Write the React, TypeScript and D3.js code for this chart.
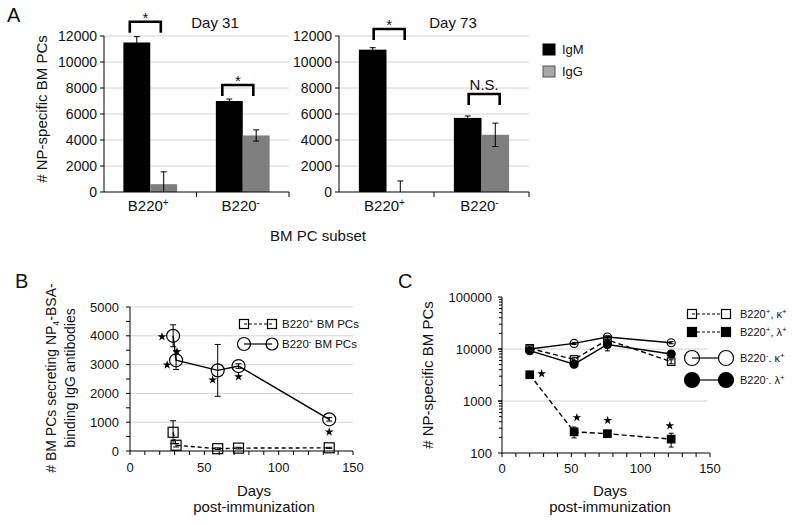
import React from "react";
import * as d3 from "d3";

const FONT = "'Liberation Sans', Arial, Helvetica, sans-serif";
const GRID = "#d4d4d4";
const INK = "#111";

// ---------- Panel A data ----------
const subsetsA = ["B220+", "B220-"];
const isotypesA = ["IgM", "IgG"];
const yTicksA = [0, 2000, 4000, 6000, 8000, 10000, 12000];
const day31IgM = [11500, 7000];
const day31IgMErr = [450, 150];
const day31IgG = [600, 4350];
const day31IgGErr = [950, 430];
const day31Sig = ["*", "*"];
const day31BracketTop = [13100, 8230];
const day73IgM = [10950, 5700];
const day73IgMErr = [150, 150];
const day73IgG = [0, 4400];
const day73IgGErr = [850, 900];
const day73Sig = ["*", "N.S."];
const day73BracketTop = [12540, 7540];

// ---------- Panel B data ----------
const daysB = [29, 31, 59, 73, 134];
const bNegMean = [4000, 3150, 2800, 2950, 1100];
const bNegErr = [380, 320, 900, 80, 60];
const bPosMean = [650, 200, 80, 100, 110];
const bPosErr = [400, 60, 30, 30, 20];
const starsBDays = [21.5, 25, 31.6, 55.6, 73, 134];
const starsBVals = [3970, 2990, 3450, 2470, 2580, 660];
const xTicksB = [0, 50, 100, 150];
const yTicksB = [0, 1000, 2000, 3000, 4000, 5000];

// ---------- Panel C data ----------
const daysC = [20, 52, 76, 122];
const cPosKappa = [10300, 6300, 15000, 5700];
const cPosKappaErr = [300, 500, 1500, 500];
const cPosLambda = [3200, 255, 235, 185];
const cPosLambdaErr = [150, 60, 20, 55];
const cNegKappa = [10000, 12800, 17000, 13200];
const cNegKappaErr = [400, 600, 800, 600];
const cNegLambda = [9300, 5100, 12200, 8000];
const cNegLambdaErr = [500, 400, 3000, 700];
const starsCDays = [28.6, 54, 76.2, 121];
const starsCVals = [3350, 480, 424, 335];
const xTicksC = [0, 50, 100, 150];
const yTicksC = [100, 1000, 10000, 100000];

function Sup({ s, size }: { s: string; size: number }) {
  return (
    <tspan baselineShift="super" fontSize={size}>
      {s}
    </tspan>
  );
}

function subsetLabel(label: string, size: number) {
  const base = label.slice(0, -1);
  const sign = label.slice(-1);
  return (
    <>
      {base}
      <Sup s={sign} size={size} />
    </>
  );
}

// ---------- Panel A ----------
function BarPanel(props: {
  x0: number;
  x1: number;
  title: string;
  igm: number[];
  igmErr: number[];
  igg: number[];
  iggErr: number[];
  sig: string[];
  bracketTop: number[];
  bracketShift: number;
}) {
  const { x0, x1, title, igm, igmErr, igg, iggErr, sig, bracketTop, bracketShift } = props;
  const y = d3.scaleLinear().domain([0, 12000]).range([192, 36]);
  const xb = d3.scaleBand<string>().domain(subsetsA).range([x0, x1]);
  const xi = d3
    .scaleBand<string>()
    .domain(isotypesA)
    .range([0, xb.bandwidth()])
    .paddingOuter(0.72);
  const series = [
    { key: "IgM", vals: igm, errs: igmErr, fill: "#000" },
    { key: "IgG", vals: igg, errs: iggErr, fill: "#7f7f7f" },
  ];
  return (
    <g>
      {yTicksA.slice(1).map((t) => (
        <line key={t} x1={x0} x2={x1} y1={y(t)} y2={y(t)} stroke={GRID} />
      ))}
      {series.map((s) =>
        subsetsA.map((c, i) => {
          const bx = (xb(c) as number) + (xi(s.key) as number);
          const w = xi.bandwidth();
          const cx = bx + w / 2;
          const lo = y(Math.max(0, s.vals[i] - s.errs[i]));
          const hi = y(s.vals[i] + s.errs[i]);
          return (
            <g key={s.key + c}>
              <rect x={bx} y={y(s.vals[i])} width={w} height={y(0) - y(s.vals[i])} fill={s.fill} />
              <line x1={cx} x2={cx} y1={lo} y2={hi} stroke="#000" strokeWidth={1} />
              <line x1={cx - 3} x2={cx + 3} y1={hi} y2={hi} stroke="#000" />
              {s.vals[i] - s.errs[i] > 0 && (
                <line x1={cx - 3} x2={cx + 3} y1={lo} y2={lo} stroke="#000" />
              )}
            </g>
          );
        })
      )}
      {subsetsA.map((c, i) => {
        const l = (xb(c) as number) + (xi("IgM") as number) + xi.bandwidth() / 2 + bracketShift;
        const r = l + 31;
        const top = y(bracketTop[i]);
        const isStar = sig[i] === "*";
        return (
          <g key={"br" + c}>
            <path
              d={`M${l},${top + 11}V${top}H${r}V${top + 11}`}
              fill="none"
              stroke="#000"
              strokeWidth={2.6}
            />
            <text
              x={(l + r) / 2}
              y={isStar ? top + 1 : top - 4}
              textAnchor="middle"
              fontSize={15}
              fill={INK}
            >
              {sig[i]}
            </text>
          </g>
        );
      })}
      {/* axes */}
      <line x1={x0} x2={x0} y1={y(12000)} y2={y(0)} stroke="#000" />
      <line x1={x0} x2={x1} y1={y(0)} y2={y(0)} stroke="#000" />
      {yTicksA.map((t) => (
        <g key={"yt" + t}>
          <line x1={x0 - 4} x2={x0} y1={y(t)} y2={y(t)} stroke="#000" />
          <text x={x0 - 7} y={y(t)} dy="0.35em" textAnchor="end" fontSize={14} fill={INK}>
            {t}
          </text>
        </g>
      ))}
      {[...subsetsA.map((c) => xb(c) as number), x1].slice(1).map((xv, i) => (
        <line key={"xt" + i} x1={xv} x2={xv} y1={y(0)} y2={y(0) + 5} stroke="#000" />
      ))}
      {subsetsA.map((c) => (
        <text
          key={"xl" + c}
          x={(xb(c) as number) + xb.bandwidth() / 2 - 2}
          y={211}
          textAnchor="middle"
          fontSize={15}
          fill={INK}
        >
          {subsetLabel(c, 10)}
        </text>
      ))}
      <text x={x0 + 0.6 * (x1 - x0)} y={28} textAnchor="middle" fontSize={15} fill={INK}>
        {title}
      </text>
    </g>
  );
}

function PanelA() {
  return (
    <g>
      <text x={7} y={22} fontSize={20} fill={INK}>
        A
      </text>
      <text
        transform="translate(47,109) rotate(-90)"
        textAnchor="middle"
        fontSize={15}
        fill={INK}
      >
        # NP-specific BM PCs
      </text>
      <BarPanel
        x0={104}
        x1={289}
        title="Day 31"
        igm={day31IgM}
        igmErr={day31IgMErr}
        igg={day31IgG}
        iggErr={day31IgGErr}
        sig={day31Sig}
        bracketTop={day31BracketTop}
        bracketShift={-7}
      />
      <BarPanel
        x0={339}
        x1={529}
        title="Day 73"
        igm={day73IgM}
        igmErr={day73IgMErr}
        igg={day73IgG}
        iggErr={day73IgGErr}
        sig={day73Sig}
        bracketTop={day73BracketTop}
        bracketShift={1}
      />
      <text x={318} y={241} textAnchor="middle" fontSize={15} fill={INK}>
        BM PC subset
      </text>
      {isotypesA.map((k, i) => (
        <g key={k} transform={`translate(543,${44 + i * 22})`}>
          <rect
            width={12}
            height={11}
            fill={i === 0 ? "#000" : "#a8a8a8"}
            stroke={i === 0 ? "#000" : "#555"}
          />
          <text x={19} y={5.5} dy="0.35em" fontSize={13} fill={INK}>
            {k}
          </text>
        </g>
      ))}
    </g>
  );
}

// ---------- shared helpers ----------
function ErrBar({ x, y1, y2, cap }: { x: number; y1: number; y2: number; cap: number }) {
  return (
    <g stroke="#000" strokeWidth={1}>
      <line x1={x} x2={x} y1={y1} y2={y2} />
      <line x1={x - cap} x2={x + cap} y1={y1} y2={y1} />
      <line x1={x - cap} x2={x + cap} y1={y2} y2={y2} />
    </g>
  );
}

function Marker({
  shape,
  filled,
  x,
  y,
  size,
}: {
  shape: "square" | "circle";
  filled: boolean;
  x: number;
  y: number;
  size: number;
}) {
  const fill = filled ? "#000" : "none";
  if (shape === "square")
    return (
      <rect x={x - size / 2} y={y - size / 2} width={size} height={size} fill={fill} stroke="#000" strokeWidth={1.2} />
    );
  return <circle cx={x} cy={y} r={size / 2} fill={fill} stroke="#000" strokeWidth={1.2} />;
}

const starPath = d3.symbol().type(d3.symbolStar).size(24)() as string;

// ---------- Panel B ----------
function PanelB() {
  const x = d3.scaleLinear().domain([0, 150]).range([130, 353]);
  const y = d3.scaleLinear().domain([0, 5000]).range([451, 307]);
  const line = d3
    .line<[number, number]>()
    .x((d) => x(d[0]))
    .y((d) => y(d[1]));
  const series = [
    { mean: bPosMean, err: bPosErr, shape: "square" as const, dash: "4,3", size: 10 },
    { mean: bNegMean, err: bNegErr, shape: "circle" as const, dash: undefined, size: 13 },
  ];
  const minorX = d3.range(0, 151, 10);
  const minorY = d3.range(0, 5001, 500);
  return (
    <g>
      <text x={15} y={288} fontSize={20} fill={INK}>
        B
      </text>
      {yTicksB.slice(1).map((t) => (
        <line key={t} x1={x(0)} x2={x(150)} y1={y(t)} y2={y(t)} stroke={GRID} />
      ))}
      <g transform="translate(56,378) rotate(-90)" fontSize={14} fill={INK} textAnchor="middle">
        <text>
          # BM PCs secreting NP
          <tspan baselineShift="-3" fontSize={9}>
            4
          </tspan>
          -BSA-
        </text>
        <text y={19}>binding IgG antibodies</text>
      </g>
      {series.map((s, si) => (
        <g key={si}>
          <path
            d={line(daysB.map((d, i) => [d, s.mean[i]]) as [number, number][]) || ""}
            fill="none"
            stroke="#000"
            strokeWidth={1.4}
            strokeDasharray={s.dash}
          />
          {daysB.map((d, i) => (
            <ErrBar key={"e" + i} x={x(d)} y1={y(s.mean[i] + s.err[i])} y2={y(Math.max(0, s.mean[i] - s.err[i]))} cap={3} />
          ))}
          {daysB.map((d, i) => (
            <Marker key={"m" + i} shape={s.shape} filled={false} x={x(d)} y={y(s.mean[i])} size={s.size} />
          ))}
        </g>
      ))}
      {starsBDays.map((d, i) => (
        <path key={"s" + i} d={starPath} transform={`translate(${x(d)},${y(starsBVals[i])})`} fill="#000" />
      ))}
      {/* axes */}
      <line x1={x(0)} x2={x(0)} y1={y(0)} y2={y(5000)} stroke="#000" />
      <line x1={x(0)} x2={x(150)} y1={y(0)} y2={y(0)} stroke="#000" />
      {minorY.map((t) => (
        <line key={"my" + t} x1={x(0) - 4} x2={x(0)} y1={y(t)} y2={y(t)} stroke="#000" />
      ))}
      {yTicksB.map((t) => (
        <text key={"yl" + t} x={119} y={y(t)} dy="0.35em" textAnchor="end" fontSize={13} fill={INK}>
          {t}
        </text>
      ))}
      {minorX.map((t) => (
        <line key={"mx" + t} x1={x(t)} x2={x(t)} y1={y(0)} y2={y(0) + 4} stroke="#000" />
      ))}
      {xTicksB.map((t) => (
        <text key={"xl" + t} x={x(t)} y={472} textAnchor="middle" fontSize={13} fill={INK}>
          {t}
        </text>
      ))}
      <text x={254} y={496} textAnchor="middle" fontSize={15} fill={INK}>
        Days
      </text>
      <text x={254} y={512} textAnchor="middle" fontSize={15} fill={INK}>
        post-immunization
      </text>
      {/* legend */}
      {series.map((s, i) => {
        const ly = 324 + i * 20;
        return (
          <g key={"lg" + i}>
            <line x1={244} x2={272} y1={ly} y2={ly} stroke="#000" strokeWidth={1.2} strokeDasharray={s.dash ? "3,2" : undefined} />
            <Marker shape={s.shape} filled={false} x={244} y={ly} size={s.shape === "square" ? 9 : 13} />
            <Marker shape={s.shape} filled={false} x={272} y={ly} size={s.shape === "square" ? 9 : 12} />
            <text x={282} y={ly} dy="0.35em" fontSize={11.5} fill={INK}>
              B220
              <Sup s={i === 0 ? "+" : "-"} size={8} />
              {" BM PCs"}
            </text>
          </g>
        );
      })}
    </g>
  );
}

// ---------- Panel C ----------
function PanelC() {
  const x = d3.scaleLinear().domain([0, 150]).range([502, 710]);
  const y = d3.scaleLog().domain([100, 100000]).range([453, 297]);
  const line = d3
    .line<[number, number]>()
    .x((d) => x(d[0]))
    .y((d) => y(d[1]));
  const series = [
    { mean: cPosKappa, err: cPosKappaErr, shape: "square" as const, filled: false, dash: "5,3", size: 7.5, sign: "+", chain: "κ", sep: ", " },
    { mean: cPosLambda, err: cPosLambdaErr, shape: "square" as const, filled: true, dash: "5,3", size: 7.5, sign: "+", chain: "λ", sep: ", " },
    { mean: cNegKappa, err: cNegKappaErr, shape: "circle" as const, filled: false, dash: undefined, size: 8, sign: "-", chain: "κ", sep: ". " },
    { mean: cNegLambda, err: cNegLambdaErr, shape: "circle" as const, filled: true, dash: undefined, size: 8, sign: "-", chain: "λ", sep: ". " },
  ];
  const minorX = d3.range(0, 151, 10);
  const minorY: number[] = [];
  [100, 1000, 10000].forEach((dec) => {
    for (let k = 1; k <= 10; k++) minorY.push(dec * k);
  });
  const legendY = [314, 332, 358, 380];
  return (
    <g>
      <text x={398} y={288} fontSize={20} fill={INK}>
        C
      </text>
      {[1000, 10000].map((t) => (
        <line key={t} x1={x(0)} x2={x(148)} y1={y(t)} y2={y(t)} stroke={GRID} />
      ))}
      <text transform="translate(433,375) rotate(-90)" textAnchor="middle" fontSize={15} fill={INK}>
        # NP-specific BM PCs
      </text>
      {series.map((s, si) => (
        <g key={si}>
          <path
            d={line(daysC.map((d, i) => [d, s.mean[i]]) as [number, number][]) || ""}
            fill="none"
            stroke="#000"
            strokeWidth={1.4}
            strokeDasharray={s.dash}
          />
          {daysC.map((d, i) => (
            <ErrBar key={"e" + i} x={x(d)} y1={y(s.mean[i] + s.err[i])} y2={y(s.mean[i] - s.err[i])} cap={2.5} />
          ))}
        </g>
      ))}
      {series.map((s, si) => (
        <g key={"m" + si}>
          {daysC.map((d, i) => (
            <Marker key={i} shape={s.shape} filled={s.filled} x={x(d)} y={y(s.mean[i])} size={s.size} />
          ))}
        </g>
      ))}
      {starsCDays.map((d, i) => (
        <path key={"s" + i} d={starPath} transform={`translate(${x(d)},${y(starsCVals[i])})`} fill="#000" />
      ))}
      {/* axes */}
      <line x1={x(0)} x2={x(0)} y1={y(100)} y2={y(100000)} stroke="#000" />
      <line x1={x(0)} x2={x(150)} y1={y(100)} y2={y(100)} stroke="#000" />
      {minorY.map((t, i) => (
        <line key={"my" + i} x1={x(0) - (yTicksC.includes(t) ? 4 : 3)} x2={x(0)} y1={y(t)} y2={y(t)} stroke="#000" />
      ))}
      {yTicksC.map((t) => (
        <text key={"yl" + t} x={492} y={y(t)} dy="0.35em" textAnchor="end" fontSize={13} fill={INK}>
          {t}
        </text>
      ))}
      {minorX.map((t) => (
        <line key={"mx" + t} x1={x(t)} x2={x(t)} y1={y(100)} y2={y(100) + 4} stroke="#000" />
      ))}
      {xTicksC.map((t) => (
        <text key={"xl" + t} x={x(t)} y={473} textAnchor="middle" fontSize={13} fill={INK}>
          {t}
        </text>
      ))}
      <text x={610} y={496} textAnchor="middle" fontSize={15} fill={INK}>
        Days
      </text>
      <text x={610} y={512} textAnchor="middle" fontSize={15} fill={INK}>
        post-immunization
      </text>
      {/* legend */}
      {series.map((s, i) => {
        const ly = legendY[i];
        const big = s.shape === "circle" ? 15 : 9;
        return (
          <g key={"lg" + i}>
            <line x1={692} x2={726 - big / 2} y1={ly} y2={ly} stroke="#000" strokeWidth={1.2} strokeDasharray={s.dash ? "3,2" : undefined} />
            <Marker shape={s.shape} filled={s.filled} x={692} y={ly} size={big} />
            <Marker shape={s.shape} filled={s.filled} x={726} y={ly} size={big} />
            <text x={740} y={ly} dy="0.35em" fontSize={11} fill={INK}>
              B220
              <Sup s={s.sign} size={8} />
              {s.sep + s.chain}
              <Sup s="+" size={8} />
            </text>
          </g>
        );
      })}
    </g>
  );
}

export default function App() {
  return (
    <svg
      width={800}
      height={525}
      viewBox="0 0 800 525"
      style={{ position: "absolute", left: 0, top: 0, background: "#fff" }}
      fontFamily={FONT}
    >
      <rect width={800} height={525} fill="#fff" />
      <PanelA />
      <PanelB />
      <PanelC />
    </svg>
  );
}
